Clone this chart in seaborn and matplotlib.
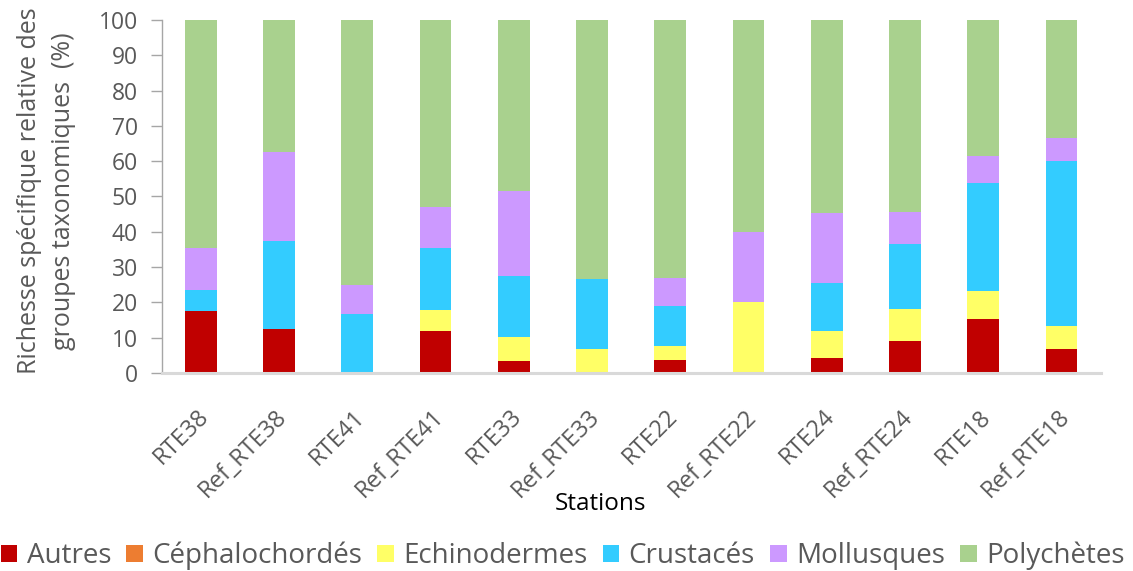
import matplotlib
matplotlib.use("Agg")
import matplotlib.pyplot as plt
import matplotlib.transforms as mtransforms
import seaborn as sns
import pandas as pd
import numpy as np
from matplotlib.patches import Patch

# Relative species richness (%) per taxonomic group and station
stations = ["RTE38", "Ref_RTE38", "RTE41", "Ref_RTE41", "RTE33", "Ref_RTE33",
            "RTE22", "Ref_RTE22", "RTE24", "Ref_RTE24", "RTE18", "Ref_RTE18"]
autres = [17.6, 12.5, 0.0, 11.8, 3.4, 0.0, 3.8, 0.0, 4.3, 9.1, 15.4, 6.7]
cephalochordes = [0.0] * 12
echinodermes = [0.0, 0.0, 0.0, 5.9, 6.9, 6.7, 3.8, 20.0, 7.6, 9.1, 7.7, 6.6]
crustaces = [5.9, 25.0, 16.7, 17.6, 17.2, 20.0, 11.5, 0.0, 13.6, 18.2, 30.8, 46.7]
mollusques = [11.8, 25.0, 8.3, 11.8, 24.1, 0.0, 7.7, 20.0, 19.9, 9.1, 7.7, 6.7]
polychetes = [64.7, 37.5, 75.0, 52.9, 48.4, 73.3, 73.2, 60.0, 54.6, 54.5, 38.4, 33.3]

groups = ["Autres", "Céphalochordés", "Echinodermes", "Crustacés", "Mollusques", "Polychètes"]
colors = ["#C00000", "#ED7D31", "#FFFF66", "#33CCFF", "#CC99FF", "#A9D18E"]
series = [autres, cephalochordes, echinodermes, crustaces, mollusques, polychetes]

df = pd.DataFrame({"Station": stations})
for g, vals in zip(groups, series):
    df[g] = vals

sns.set_style("white")
plt.rcParams["font.family"] = ["Open Sans", "DejaVu Sans"]
grey = "#595959"

fig = plt.figure(figsize=(11.33, 5.71), dpi=100)
ax = fig.add_axes([0.1427, 0.3468, 0.8288, 0.6182])

# Stacked bars: draw cumulative totals from the top group down so each
# segment shows its own share.
cum = df[groups].cumsum(axis=1)
for g, c in reversed(list(zip(groups, colors))):
    sns.barplot(x=df["Station"], y=cum[g], color=c, width=0.405,
                saturation=1, ax=ax, linewidth=0, zorder=2)

ax.set_ylim(0, 100)
ax.set_xlim(-0.5, len(stations) - 0.5)
ax.set_yticks(np.arange(0, 101, 10))
ax.tick_params(axis="y", labelsize=16.5, labelcolor=grey, color="#A6A6A6",
               length=8, width=1, direction="out", left=True, pad=9)
ax.tick_params(axis="x", length=0, labelsize=17, labelcolor=grey, pad=23)
shift = mtransforms.ScaledTranslation(-3 / 72, 0, fig.dpi_scale_trans)
for lab in ax.get_xticklabels():
    lab.set_rotation(45)
    lab.set_ha("right")
    lab.set_rotation_mode("anchor")
    lab.set_transform(lab.get_transform() + shift)

for s in ["top", "right"]:
    ax.spines[s].set_visible(False)
ax.spines["left"].set_color("#A6A6A6")
ax.spines["left"].set_linewidth(1)
ax.spines["bottom"].set_color("#D9D9D9")
ax.spines["bottom"].set_linewidth(2.2)
ax.grid(False)

ax.set_xlabel("Stations", fontsize=17.5, color="black")
ax.xaxis.label.set_va("center")
ax.xaxis.set_label_coords(0.4675, (373 - 504) / 353)
ax.set_ylabel("Richesse spécifique relative des\ngroupes taxonomiques  (%)",
              fontsize=18, color=grey, linespacing=1.45)
ax.yaxis.set_label_coords((76 - 162) / 939, (373 - 191) / 353)

handles = [Patch(facecolor=c, edgecolor="none") for c in colors]
fig.legend(handles, groups, loc="center", bbox_to_anchor=(0.4965, 1 - 556 / 571),
           ncol=6, frameon=False, fontsize=20, labelcolor=grey,
           handlelength=0.6, handleheight=0.6, handletextpad=0.33,
           columnspacing=0.55, borderpad=0)

fig.savefig("out.png", dpi=100)
